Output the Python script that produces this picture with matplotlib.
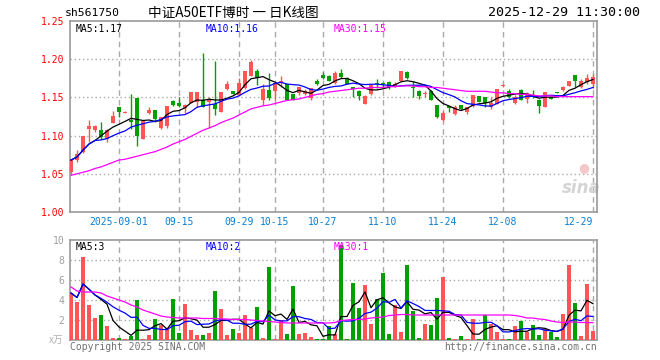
import numpy as np
import pandas as pd
import matplotlib
matplotlib.use("Agg")
import matplotlib.pyplot as plt

# daily candles, 2025-08-20 .. 2025-12-29 (88 trading days)
open_px = [1.052, 1.068, 1.078, 1.108, 1.107, 1.107, 1.095, 1.117, 1.137, 1.130,
           1.121, 1.149, 1.096, 1.129, 1.133, 1.110, 1.112, 1.145, 1.143, 1.136,
           1.143, 1.144, 1.146, 1.144, 1.141, 1.131, 1.161, 1.158, 1.153, 1.162,
           1.178, 1.184, 1.147, 1.160, 1.158, 1.169, 1.167, 1.155, 1.156, 1.155,
           1.149, 1.171, 1.179, 1.178, 1.169, 1.182, 1.176, 1.164, 1.159, 1.142,
           1.154, 1.169, 1.169, 1.170, 1.165, 1.171, 1.183, 1.164, 1.159, 1.154,
           1.159, 1.140, 1.121, 1.139, 1.128, 1.140, 1.131, 1.139, 1.152, 1.150,
           1.137, 1.142, 1.165, 1.159, 1.143, 1.160, 1.148, 1.153, 1.147, 1.138,
           1.150, 1.157, 1.160, 1.165, 1.179, 1.163, 1.170, 1.167]
high_px = [1.069, 1.081, 1.100, 1.121, 1.114, 1.118, 1.108, 1.132, 1.138, 1.132,
           1.154, 1.149, 1.121, 1.138, 1.134, 1.125, 1.139, 1.147, 1.150, 1.141,
           1.157, 1.157, 1.208, 1.151, 1.197, 1.157, 1.171, 1.159, 1.176, 1.185,
           1.199, 1.187, 1.168, 1.182, 1.170, 1.178, 1.168, 1.155, 1.164, 1.161,
           1.162, 1.174, 1.183, 1.179, 1.184, 1.187, 1.177, 1.164, 1.160, 1.153,
           1.167, 1.174, 1.170, 1.171, 1.170, 1.185, 1.184, 1.171, 1.160, 1.159,
           1.160, 1.140, 1.132, 1.139, 1.140, 1.140, 1.138, 1.153, 1.152, 1.151,
           1.151, 1.161, 1.167, 1.161, 1.153, 1.161, 1.157, 1.160, 1.148, 1.157,
           1.151, 1.157, 1.165, 1.172, 1.179, 1.174, 1.180, 1.180]
low_px = [1.050, 1.066, 1.077, 1.092, 1.105, 1.095, 1.091, 1.116, 1.125, 1.129,
          1.109, 1.086, 1.095, 1.128, 1.118, 1.109, 1.110, 1.139, 1.137, 1.129,
          1.143, 1.137, 1.137, 1.110, 1.127, 1.131, 1.160, 1.154, 1.152, 1.161,
          1.178, 1.166, 1.140, 1.147, 1.147, 1.164, 1.146, 1.146, 1.153, 1.153,
          1.146, 1.166, 1.174, 1.171, 1.168, 1.176, 1.167, 1.150, 1.146, 1.141,
          1.153, 1.162, 1.164, 1.161, 1.164, 1.171, 1.174, 1.150, 1.148, 1.151,
          1.146, 1.123, 1.119, 1.131, 1.127, 1.134, 1.128, 1.138, 1.144, 1.138,
          1.135, 1.141, 1.163, 1.149, 1.141, 1.146, 1.143, 1.149, 1.130, 1.137,
          1.148, 1.156, 1.158, 1.165, 1.163, 1.162, 1.167, 1.162]
close_px = [1.068, 1.076, 1.099, 1.113, 1.112, 1.098, 1.107, 1.126, 1.131, 1.131,
            1.118, 1.100, 1.119, 1.134, 1.122, 1.124, 1.139, 1.140, 1.139, 1.140,
            1.157, 1.157, 1.138, 1.146, 1.135, 1.157, 1.168, 1.154, 1.169, 1.185,
            1.196, 1.175, 1.161, 1.149, 1.169, 1.171, 1.146, 1.146, 1.164, 1.159,
            1.162, 1.167, 1.176, 1.171, 1.182, 1.177, 1.168, 1.161, 1.152, 1.152,
            1.166, 1.168, 1.168, 1.163, 1.168, 1.185, 1.175, 1.162, 1.152, 1.156,
            1.147, 1.125, 1.130, 1.136, 1.138, 1.135, 1.138, 1.153, 1.144, 1.143,
            1.143, 1.161, 1.166, 1.151, 1.151, 1.147, 1.156, 1.152, 1.139, 1.157,
            1.148, 1.156, 1.163, 1.172, 1.171, 1.171, 1.176, 1.177]
# 30-day average as drawn (it needs history before the window)
ma30_px = [1.048, 1.050, 1.052, 1.054, 1.057, 1.059, 1.062, 1.065, 1.068, 1.069,
           1.071, 1.073, 1.075, 1.077, 1.079, 1.082, 1.085, 1.089, 1.092, 1.095,
           1.099, 1.103, 1.107, 1.110, 1.113, 1.117, 1.120, 1.123, 1.127, 1.131,
           1.135, 1.137, 1.139, 1.140, 1.142, 1.144, 1.146, 1.147, 1.148, 1.150,
           1.152, 1.154, 1.155, 1.157, 1.158, 1.159, 1.160, 1.161, 1.162, 1.162,
           1.163, 1.163, 1.163, 1.164, 1.164, 1.165, 1.165, 1.165, 1.164, 1.164,
           1.163, 1.163, 1.162, 1.161, 1.160, 1.159, 1.158, 1.158, 1.158, 1.158,
           1.157, 1.156, 1.156, 1.155, 1.155, 1.154, 1.154, 1.153, 1.152, 1.152,
           1.152, 1.151, 1.151, 1.151, 1.151, 1.151, 1.151, 1.151]
# volume, 万手
volume = [4.7, 3.8, 8.3, 3.5, 2.2, 2.5, 1.4, 0.17, 0.23, 0.13,
          0.4, 4.0, 0.13, 0.5, 2.1, 1.5, 1.2, 4.1, 0.73, 3.6,
          1.0, 0.53, 0.53, 0.73, 4.9, 3.1, 0.53, 1.1, 0.73, 2.5,
          1.2, 3.3, 0.23, 7.3, 0.13, 2.0, 0.63, 5.4, 0.63, 0.67,
          0.27, 0.13, 0.13, 1.4, 0.57, 9.5, 0.13, 5.7, 3.2, 5.5,
          1.6, 4.1, 6.7, 0.63, 3.5, 0.83, 7.5, 2.9, 0.23, 1.6,
          1.5, 4.2, 6.3, 0.23, 0.13, 0.4, 0.13, 2.1, 0.13, 2.5,
          1.6, 0.8, 0.13, 0.13, 1.4, 1.9, 0.8, 1.5, 0.53, 1.1,
          0.8, 0.33, 2.6, 7.5, 3.7, 0.43, 5.6, 0.93]
ma30_vol = [5.3, 4.9, 4.8, 4.8, 4.8, 4.7, 4.4, 4.2, 4.0, 3.8,
            3.5, 3.3, 3.0, 2.8, 2.6, 2.4, 2.3, 2.25, 2.2, 2.2,
            2.2, 2.2, 2.15, 2.15, 2.15, 2.1, 2.1, 2.05, 2.05, 2.05,
            2.0, 1.95, 1.9, 1.85, 1.8, 1.75, 1.7, 1.7, 1.7, 1.7,
            1.7, 1.7, 1.7, 1.7, 1.75, 1.95, 2.0, 2.05, 2.05, 2.1,
            2.2, 2.25, 2.3, 2.45, 2.5, 2.55, 2.55, 2.5, 2.5, 2.5,
            2.5, 2.5, 2.5, 2.5, 2.5, 2.5, 2.5, 2.5, 2.5, 2.5,
            2.5, 2.5, 2.5, 2.5, 2.45, 2.35, 2.2, 2.2, 2.1, 2.05,
            1.9, 1.8, 1.75, 1.8, 1.8, 1.75, 1.75, 1.73]

tick_days = [8, 18, 28, 34, 42, 52, 62, 72, 87]
tick_labels = ["2025-09-01", "09-15", "09-29", "10-15", "10-27",
               "11-10", "11-24", "12-08", "12-29"]
price_ticks = [1.00, 1.05, 1.10, 1.15, 1.20, 1.25]
vol_ticks = [2, 4, 6, 8, 10]

RED = "#ff5555"
GREEN = "#00a000"
FRAME = "#999999"
GRID = "#aaaaaa"
MONO = "DejaVu Sans Mono"
CJK = ["Noto Sans CJK SC", "DejaVu Sans"]


def draw_grid(ax, levels):
    for lv in levels:
        ax.axhline(lv, color=GRID, lw=1, ls=(0, (1, 2)), zorder=0)
    for d in tick_days:
        ax.axvline(d, color=GRID, lw=1, ls=(0, (4, 3)), zorder=0)
    for s in ax.spines.values():
        s.set_color(FRAME)
        s.set_linewidth(1.2)
    ax.tick_params(length=0, labelsize=7, pad=4)
    ax.set_xticks([])


o = np.array(open_px)
h = np.array(high_px)
l = np.array(low_px)
c = np.array(close_px)
v = np.array(volume)
x = np.arange(len(c))
cols = np.where(c >= o, RED, GREEN)

ma5 = pd.Series(c).rolling(5, min_periods=1).mean().values
ma10 = pd.Series(c).rolling(10, min_periods=1).mean().values
vma5 = pd.Series(v).rolling(5, min_periods=1).mean().values
vma10 = pd.Series(v).rolling(10, min_periods=1).mean().values

fig = plt.figure(figsize=(6.6, 3.6), dpi=100)
ax = fig.add_axes([70 / 660, 1 - 212 / 360, 527 / 660, 191 / 360])
axv = fig.add_axes([70 / 660, 20 / 360, 527 / 660, 100 / 360])

# price panel
draw_grid(ax, price_ticks[1:-1])
ax.vlines(x, l, h, colors=cols, lw=1, zorder=2)
body = np.maximum(np.abs(c - o), 0.0007)
ax.bar(x, body, bottom=np.minimum(o, c), width=0.8, color=cols, lw=0, zorder=3)
ax.plot(x, ma5, color="black", lw=0.9, zorder=4)
ax.plot(x, ma10, color="#0000ff", lw=0.9, zorder=4)
ax.plot(x, ma30_px, color="#ff00ff", lw=0.9, zorder=4)
ax.set_xlim(-0.17, 87.67)
ax.set_ylim(1.00, 1.25)
ax.set_yticks(price_ticks)
ax.set_yticklabels(["%.2f" % p for p in price_ticks], color="red", family=MONO)

for d, lab in zip(tick_days, tick_labels):
    ha = "right" if d == tick_days[-1] else "center"
    ax.text(d, -0.025, lab, transform=ax.get_xaxis_transform(), ha=ha, va="top",
            color="#0a7fd0", fontsize=7, family=MONO)

ax.text(0.01, 0.985, "MA5:%.2f" % ma5[-1], transform=ax.transAxes, va="top",
        fontsize=7, family=MONO, color="black")
ax.text(0.257, 0.985, "MA10:%.2f" % ma10[-1], transform=ax.transAxes, va="top",
        fontsize=7, family=MONO, color="#0000ff")
ax.text(0.5, 0.985, "MA30:%.2f" % ma30_px[-1], transform=ax.transAxes, va="top",
        fontsize=7, family=MONO, color="#ff00ff")
ax.text(0.97, 0.08, "sina", transform=ax.transAxes, ha="center", va="bottom",
        fontsize=12, style="italic", weight="bold", color="#d4d4d4", zorder=1)
ax.text(0.975, 0.2, "●", transform=ax.transAxes, ha="center", va="bottom",
        fontsize=9, color="#f4c8c8", zorder=1)

# volume panel
draw_grid(axv, vol_ticks[:-1])
axv.bar(x, v, width=0.8, color=cols, lw=0, zorder=3)
axv.plot(x, vma5, color="black", lw=0.9, zorder=4)
axv.plot(x, vma10, color="#0000ff", lw=0.9, zorder=4)
axv.plot(x, ma30_vol, color="#ff00ff", lw=0.9, zorder=4)
axv.set_xlim(-0.17, 87.67)
axv.set_ylim(0, 10)
axv.set_yticks(vol_ticks)
axv.set_yticklabels([str(t) for t in vol_ticks], color="#a0a0a0", family=MONO)
axv.text(-0.012, 0.0, "x万", transform=axv.transAxes, ha="right", va="center",
         fontsize=7, color="#b0b0b0", family=CJK)

axv.text(0.01, 0.975, "MA5:%d" % int(vma5[-1]), transform=axv.transAxes, va="top",
         fontsize=7, family=MONO, color="black")
axv.text(0.257, 0.975, "MA10:%d" % int(vma10[-1]), transform=axv.transAxes, va="top",
         fontsize=7, family=MONO, color="#0000ff")
axv.text(0.5, 0.975, "MA30:%d" % int(ma30_vol[-1]), transform=axv.transAxes, va="top",
         fontsize=7, family=MONO, color="#ff00ff")

# header / footer
fig.text(65 / 660, 1 - 13 / 360, "sh561750", fontsize=8.2, family=MONO, va="center")
fig.text(148 / 660, 1 - 13 / 360, "中证A50ETF博时 一 日K线图", fontsize=9.8,
         family=CJK, va="center")
fig.text(640 / 660, 1 - 13 / 360, "2025-12-29 11:30:00", fontsize=9.6,
         family=MONO, va="center", ha="right")
fig.text(70 / 660, 1 - 347 / 360, "Copyright 2025 SINA.COM", fontsize=7,
         family=MONO, va="center", color="#707070")
fig.text(597 / 660, 1 - 347 / 360, "http://finance.sina.com.cn", fontsize=7,
         family=MONO, va="center", ha="right", color="#707070")

fig.savefig("out.png", dpi=100)
